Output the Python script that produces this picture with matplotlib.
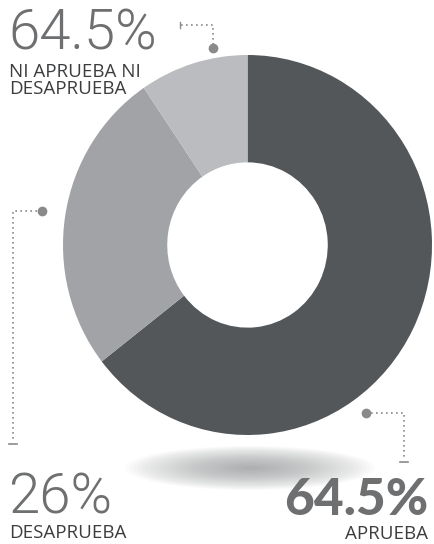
import matplotlib
matplotlib.use('Agg')
import matplotlib.pyplot as plt
from matplotlib.patches import Ellipse

labels = ['APRUEBA', 'DESAPRUEBA', 'NI APRUEBA NI\nDESAPRUEBA']
values = [64.5, 26, 9.5]
shown = ['64.5%', '26%', '64.5%']   # texto tal como sale impreso
colors = ['#54575a', '#a1a3a6', '#babcbf']

W, H = 434, 544
fig = plt.figure(figsize=(W/100, H/100), dpi=100)
ax = fig.add_axes([0, 0, 1, 1])

def Y(y):
    return H - y

# sombra
for i in range(30):
    f = 1 - i/30
    ax.add_patch(Ellipse((250, Y(468)), 250*f, 44*f, color='#8a8c8e', alpha=0.033, lw=0))

# dona (un poco mas alta que ancha, como en el original)
cx, cy, rx, ry = 247.5, 245, 184.5, 190
ax2 = fig.add_axes([(cx - rx)/W, (H - cy - ry)/H, 2*rx/W, 2*ry/H])
ax2.pie(values, colors=colors, startangle=90, counterclock=False,
        radius=1, frame=True, wedgeprops=dict(width=0.565, linewidth=0))
ax2.set_xlim(-1, 1)
ax2.set_ylim(-1, 1)
ax2.set_aspect('auto')
ax2.axis('off')

# lineas guia punteadas
gc = '#8a8a8a'
dot = dict(color=gc, lw=1.2, ls=(0, (1, 2)))
ax.plot([181, 213, 213], [Y(25), Y(25), Y(46)], **dot)
ax.plot([180, 180], [Y(22), Y(28)], color=gc, lw=1)
ax.plot(213, Y(48), 'o', color=gc, ms=6)
ax.plot([42, 13, 13], [Y(211), Y(211), Y(442)], **dot)
ax.plot([9, 17], [Y(444), Y(444)], color=gc, lw=1.2)
ax.plot(42, Y(211), 'o', color=gc, ms=6)
ax.plot([366, 404, 404], [Y(413), Y(413), Y(460)], **dot)
ax.plot([400, 408], [Y(462), Y(462)], color=gc, lw=1.2)
ax.plot(366, Y(413), 'o', color=gc, ms=6)

thin = dict(family='Roboto', weight=300, color='#6e6f71')
cap = dict(family='Open Sans', color='#3c3d3f', fontsize=13.5)

ax.text(8, Y(50), shown[2], fontsize=40.5, va='baseline', **thin)
ax.text(9, Y(63), labels[2], va='top', linespacing=0.95, **cap)
ax.text(8, Y(514), shown[1], fontsize=40.5, va='baseline', **thin)
ax.text(9, Y(524), labels[1], va='top', **cap)
ax.text(428, Y(515), shown[0], fontsize=37, va='baseline', ha='right',
        family='Lato', weight='black', color='#6e6f71')
ax.text(428, Y(525), labels[0], va='top', ha='right', **cap)

ax.set_xlim(0, W)
ax.set_ylim(0, H)
ax.axis('off')
fig.savefig('out.png', dpi=100)
